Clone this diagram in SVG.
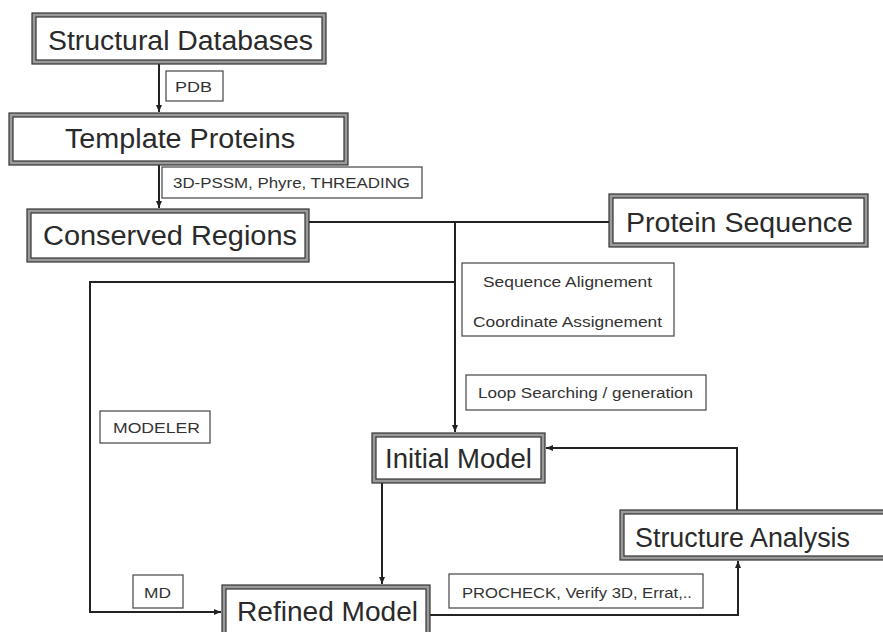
<svg xmlns="http://www.w3.org/2000/svg" width="883" height="632" viewBox="0 0 883 632">
<defs>
<marker id="ah" markerWidth="8" markerHeight="8" refX="7" refY="4" orient="auto" markerUnits="userSpaceOnUse">
<path d="M0,1 L7,4 L0,7 Z" fill="#222"/>
</marker>
<style>
.outer{fill:#9a9a9a;stroke:#333;stroke-width:1.2}
.inner{fill:#fff;stroke:#333;stroke-width:1.2}
.big{font-family:"Liberation Sans",Arial,sans-serif;font-size:27px;fill:#2a2a2a}
.lbl{fill:#fff;stroke:#444;stroke-width:1.2}
.sm{font-family:"Liberation Sans",Arial,sans-serif;font-size:14px;fill:#333}
.ln{fill:none;stroke:#222;stroke-width:2}
</style>
</defs>
<rect width="883" height="632" fill="#fff"/>
<g id="connectors">
<path class="ln" d="M159,64 V112" marker-end="url(#ah)"/>
<path class="ln" d="M159,165 V208" marker-end="url(#ah)"/>
<path class="ln" d="M309,222 H609"/>
<path class="ln" d="M455,222 V432" marker-end="url(#ah)"/>
<path class="ln" d="M455,282 H90 V612 H221" marker-end="url(#ah)"/>
<path class="ln" d="M382,477 V584" marker-end="url(#ah)"/>
<path class="ln" d="M737,511 V448 H546" marker-end="url(#ah)"/>
<path class="ln" d="M430,615 H738 V561" marker-end="url(#ah)"/>
</g>
<g id="structural-databases">
<rect class="outer" x="32" y="13" width="294" height="51"/>
<rect class="inner" x="36" y="17" width="286" height="43"/>
<text class="big" x="48" y="50" textLength="265" lengthAdjust="spacingAndGlyphs">Structural Databases</text>
</g>
<g id="pdb">
<rect class="lbl" x="166" y="71" width="57" height="30"/>
<text class="sm" x="175" y="92" textLength="37" lengthAdjust="spacingAndGlyphs">PDB</text>
</g>
<g id="template-proteins">
<rect class="outer" x="9" y="113" width="339" height="52"/>
<rect class="inner" x="13" y="117" width="331" height="44"/>
<text class="big" x="65" y="148" textLength="230" lengthAdjust="spacingAndGlyphs">Template Proteins</text>
</g>
<g id="threading">
<rect class="lbl" x="162" y="167" width="260" height="31"/>
<text class="sm" x="173" y="188" textLength="237" lengthAdjust="spacingAndGlyphs">3D-PSSM, Phyre, THREADING</text>
</g>
<g id="conserved-regions">
<rect class="outer" x="27" y="209" width="282" height="53"/>
<rect class="inner" x="31" y="213" width="274" height="45"/>
<text class="big" x="43" y="245" textLength="254" lengthAdjust="spacingAndGlyphs">Conserved Regions</text>
</g>
<g id="protein-sequence">
<rect class="outer" x="609" y="194" width="259" height="53"/>
<rect class="inner" x="613" y="198" width="251" height="45"/>
<text class="big" x="626" y="232" textLength="227" lengthAdjust="spacingAndGlyphs">Protein Sequence</text>
</g>
<g id="alignment">
<rect class="lbl" x="462" y="263" width="212" height="73"/>
<text class="sm" x="483" y="287" textLength="169" lengthAdjust="spacingAndGlyphs">Sequence Alignement</text>
<text class="sm" x="473" y="327" textLength="189" lengthAdjust="spacingAndGlyphs">Coordinate Assignement</text>
</g>
<g id="loop-searching">
<rect class="lbl" x="466" y="375" width="240" height="35"/>
<text class="sm" x="478" y="398" textLength="215" lengthAdjust="spacingAndGlyphs">Loop Searching / generation</text>
</g>
<g id="modeler">
<rect class="lbl" x="100" y="411" width="110" height="32"/>
<text class="sm" x="113" y="433" textLength="87" lengthAdjust="spacingAndGlyphs">MODELER</text>
</g>
<g id="initial-model">
<rect class="outer" x="372" y="433" width="173" height="50"/>
<rect class="inner" x="376" y="437" width="165" height="42"/>
<text class="big" x="385" y="468" textLength="147" lengthAdjust="spacingAndGlyphs">Initial Model</text>
</g>
<g id="structure-analysis">
<rect class="outer" x="620" y="510" width="270" height="50"/>
<rect class="inner" x="624" y="514" width="262" height="42"/>
<text class="big" x="635" y="547" textLength="215" lengthAdjust="spacingAndGlyphs">Structure Analysis</text>
</g>
<g id="md">
<rect class="lbl" x="133" y="575" width="50" height="33"/>
<text class="sm" x="144" y="598" textLength="27" lengthAdjust="spacingAndGlyphs">MD</text>
</g>
<g id="procheck">
<rect class="lbl" x="449" y="574" width="254" height="34"/>
<text class="sm" x="462" y="598" textLength="230" lengthAdjust="spacingAndGlyphs">PROCHECK, Verify 3D, Errat,..</text>
</g>
<g id="refined-model">
<rect class="outer" x="222" y="585" width="208" height="60"/>
<rect class="inner" x="226" y="589" width="200" height="52"/>
<text class="big" x="237" y="621" textLength="181" lengthAdjust="spacingAndGlyphs">Refined Model</text>
</g>
</svg>
